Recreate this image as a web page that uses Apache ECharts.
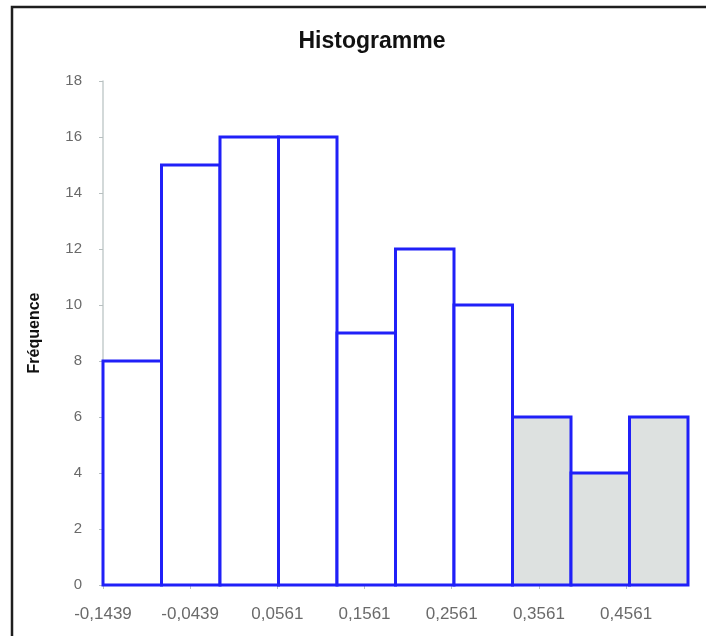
<!DOCTYPE html>
<html>
<head>
<meta charset="utf-8">
<script src="https://cdn.jsdelivr.net/npm/echarts@6/dist/echarts.min.js"></script>
<style>
  html, body { margin: 0; padding: 0; background: #ffffff; }
  #chart { width: 706px; height: 636px; }
</style>
</head>
<body>
<div id="chart"></div>
<script>
// Histogram data: class frequencies over equal-width bins
const frequencies = [8, 15, 16, 16, 9, 12, 10, 6, 4, 6];
const binStart = -0.1439;
const binWidth = 0.0671;
const tickValues = [-0.1439, -0.0439, 0.0561, 0.1561, 0.2561, 0.3561, 0.4561];
const tickLabels = ['-0,1439', '-0,0439', '0,0561', '0,1561', '0,2561', '0,3561', '0,4561'];
const yTicks = [0, 2, 4, 6, 8, 10, 12, 14, 16, 18];

// Bins from this index on are shaded
const shadedFromBin = 7;

// The x axis runs in offsets from binStart so ticks line up with the class limits
const span = binWidth * frequencies.length;
const tickOffsets = tickValues.map(v => +(v - binStart).toFixed(6));

const bars = frequencies.map((f, i) => [i * binWidth, (i + 1) * binWidth, f, i]);

const chart = echarts.init(document.getElementById('chart'), null, { renderer: 'canvas' });

chart.setOption({
  animation: false,
  backgroundColor: '#ffffff',
  title: {
    text: 'Histogramme',
    left: 367,
    top: 25,
    textAlign: 'center',
    textStyle: { fontFamily: 'Liberation Sans, Arial, sans-serif', fontSize: 23, fontWeight: 'bold', color: '#111' }
  },
  graphic: [{
    type: 'polyline',
    shape: { points: [[12, 640], [12, 7], [710, 7]] },
    style: { stroke: '#1e1e1e', lineWidth: 2.5, fill: null },
    silent: true
  }],
  grid: { left: 103, right: 18, top: 81, bottom: 51, containLabel: false },
  xAxis: {
    type: 'value',
    min: 0,
    max: span,
    splitLine: { show: false },
    axisLine: { show: true, onZero: false, lineStyle: { color: '#c4cccc', width: 1.5 } },
    axisTick: { show: true, length: 4, customValues: tickOffsets, lineStyle: { color: '#b8c0c0' } },
    axisLabel: {
      customValues: tickOffsets,
      margin: 21,
      fontFamily: 'Liberation Sans, Arial, sans-serif',
      fontSize: 17,
      color: '#6a6a6a',
      formatter: v => {
        const idx = tickOffsets.findIndex(t => Math.abs(t - v) < 1e-6);
        return idx >= 0 ? tickLabels[idx] : '';
      }
    }
  },
  yAxis: {
    type: 'value',
    min: 0,
    max: 18,
    interval: 2,
    name: 'Fréquence',
    nameLocation: 'middle',
    nameRotate: 90,
    nameGap: 60,
    nameTextStyle: { fontFamily: 'Liberation Sans, Arial, sans-serif', fontSize: 16, fontWeight: 'bold', color: '#111' },
    splitLine: { show: false },
    axisLine: { show: true, lineStyle: { color: '#c4cccc', width: 1.5 } },
    axisTick: { show: true, length: 4, lineStyle: { color: '#b8c0c0' } },
    axisLabel: {
      margin: 21,
      fontFamily: 'Liberation Sans, Arial, sans-serif',
      fontSize: 15,
      color: '#6a6a6a',
      formatter: v => (yTicks.includes(v) ? String(v) : '')
    }
  },
  series: [{
    type: 'custom',
    data: bars,
    encode: { x: [0, 1], y: 2 },
    clip: false,
    renderItem: (params, api) => {
      const x0 = api.value(0), x1 = api.value(1), h = api.value(2), idx = api.value(3);
      const p0 = api.coord([x0, 0]);
      const p1 = api.coord([x1, h]);
      return {
        type: 'rect',
        shape: { x: p0[0], y: p1[1], width: p1[0] - p0[0], height: p0[1] - p1[1] },
        style: {
          fill: idx >= shadedFromBin ? '#dde1e0' : '#ffffff',
          stroke: '#2020f8',
          lineWidth: 3
        }
      };
    }
  }]
});
</script>
</body>
</html>
